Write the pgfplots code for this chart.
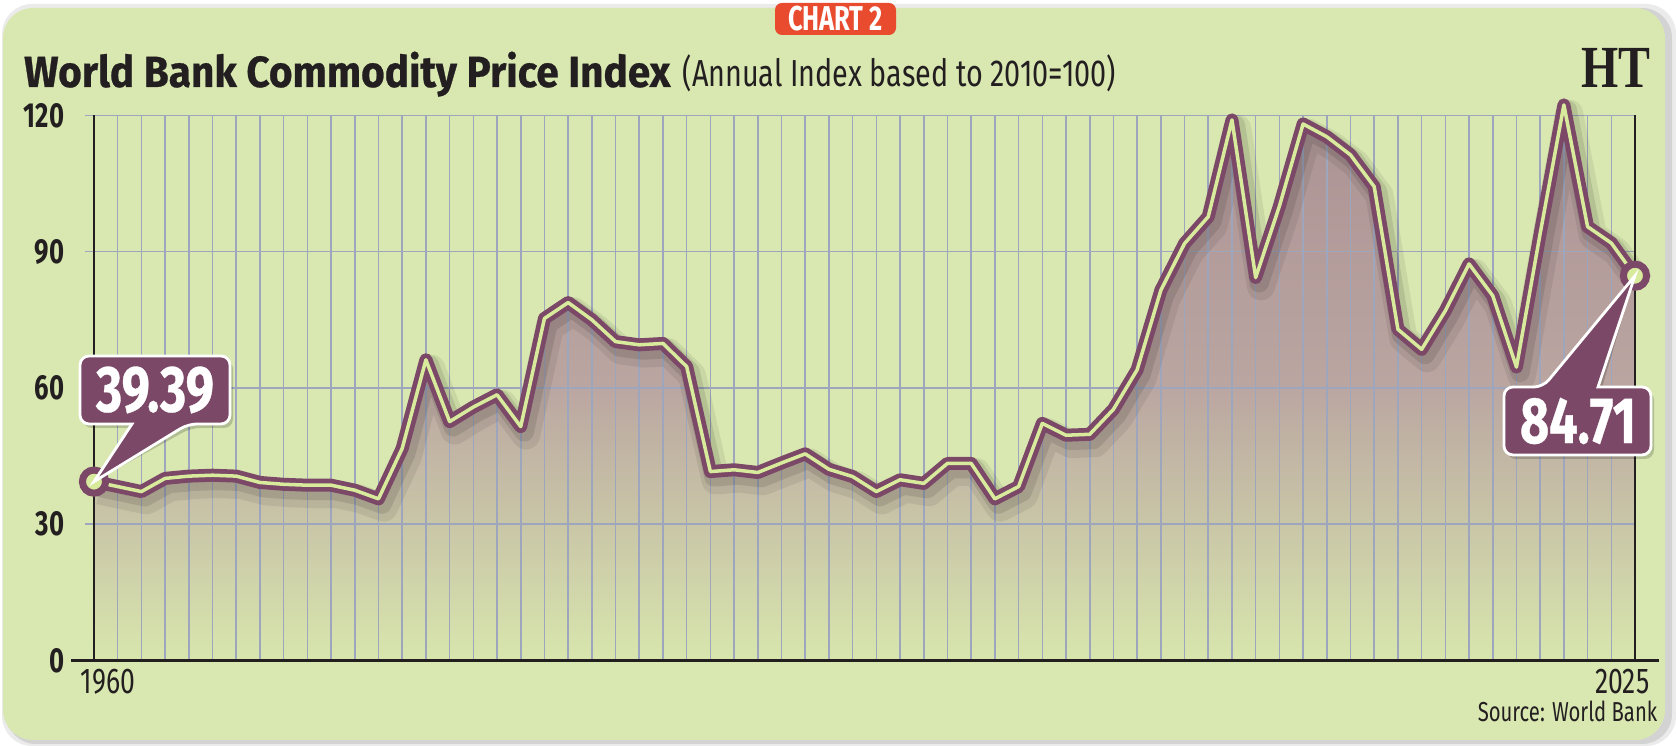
\documentclass[border=0pt]{standalone}
\usepackage{pgfplots}
\usepackage{pgfplotstable}
\pgfplotsset{compat=1.18}
\usepackage{fontspec}
\setmainfont{Fira Sans}
\newfontfamily\condfont[FakeStretch=0.74]{Fira Sans}
\newfontfamily\subfont[FakeStretch=0.765]{Fira Sans}
\newfontfamily\headfont[FakeStretch=0.93, BoldFeatures={FakeBold=0.6}]{Fira Sans}
\newfontfamily\numfont[FakeStretch=0.77, BoldFeatures={FakeBold=0.5}]{Fira Sans}
\newfontfamily\logofont[FakeStretch=0.8]{Liberation Serif}

\definecolor{panel}{HTML}{D9E8B1}
\definecolor{gridc}{HTML}{9EA6BE}
\definecolor{plum}{HTML}{7B4967}
\definecolor{lime}{HTML}{D8EA9C}
\definecolor{filltop}{HTML}{AB9293}
\definecolor{fillmid}{HTML}{BAA5A1}
\definecolor{fillbot}{HTML}{D8E6AD}
\definecolor{badge}{HTML}{E84B2D}
\definecolor{ink}{HTML}{231F20}

% World Bank commodity price index, annual, 2010 = 100
\pgfplotstableread{
year value
1960 39.39
1961 38.3
1962 37.2
1963 40.1
1964 40.6
1965 40.8
1966 40.6
1967 39.2
1968 38.8
1969 38.6
1970 38.6
1971 37.5
1972 35.6
1973 46.7
1974 66.2
1975 52.6
1976 55.8
1977 58.5
1978 51.5
1979 75.3
1980 78.8
1981 75.0
1982 70.2
1983 69.5
1984 69.8
1985 64.7
1986 41.6
1987 42.0
1988 41.4
1989 43.5
1990 45.5
1991 42.1
1992 40.5
1993 37.2
1994 39.8
1995 39.0
1996 43.4
1997 43.4
1998 35.6
1999 38.3
2000 52.2
2001 49.6
2002 49.8
2003 55.3
2004 64.0
2005 81.5
2006 91.8
2007 97.7
2008 119.0
2009 84.3
2010 100.0
2011 118.1
2012 115.3
2013 111.3
2014 104.3
2015 72.9
2016 68.5
2017 77.0
2018 87.3
2019 80.3
2020 64.6
2021 94.0
2022 122.3
2023 95.5
2024 91.9
2025 84.71
}\cpi

\begin{document}
\begin{tikzpicture}[x=1cm,y=1cm]
\useasboundingbox (0,0) rectangle (16.76,7.46);
\fill[white] (0,0) rectangle (16.76,7.46);
% card with soft shadow
\fill[black, opacity=0.08, rounded corners=0.3cm] (0.02,0.00) rectangle (16.76,7.42);
\fill[black, opacity=0.10, rounded corners=0.3cm] (0.06,0.02) rectangle (16.72,7.38);
\fill[panel, rounded corners=0.3cm] (0.03,0.06) rectangle (16.65,7.38);

% headings
\node[anchor=base west, inner sep=0pt, text=ink] at (0.235,6.59)
  {\headfont\bfseries\fontsize{12.4}{14}\selectfont World Bank Commodity Price Index};
\node[anchor=base west, inner sep=0pt, text=ink] at (6.82,6.59)
  {\subfont\fontsize{10.7}{12}\selectfont (Annual Index based to 2010=100)};
\node[fill=badge, text=white, rounded corners=2pt, minimum width=1.21cm,
      minimum height=0.32cm, inner sep=0pt] at (8.355,7.27)
  {\condfont\bfseries\fontsize{9.8}{10}\selectfont CHART 2};
\node[anchor=base east, inner sep=0pt, text=ink] at (16.51,6.58)
  {\logofont\bfseries\fontsize{17}{18}\selectfont HT};

\begin{axis}[
  at={(0.94cm,0.854cm)}, anchor=south west,
  width=15.41cm, height=5.452cm, scale only axis,
  xmin=1960, xmax=2025, ymin=0, ymax=120,
  clip=false,
  axis line style={draw=none},
  tick style={draw=none},
  xtick=\empty,
  ytick={0,30,60,90,120},
  yticklabels={0,30,60,90,120},
  yticklabel style={font=\condfont\bfseries\fontsize{9.9}{10}\selectfont,
    text=ink, anchor=east, inner sep=0pt, xshift=-0.29cm},
]
% shaded area under the index
\addplot[draw=none, top color=filltop, bottom color=fillbot, middle color=fillmid]
  table[x=year, y=value]{\cpi} \closedcycle;

% yearly and 30-point grid
\pgfplotsinvokeforeach{1961,...,2024}{
  \draw[gridc, line width=0.45pt] (axis cs:#1,0) -- (axis cs:#1,120);
}
\pgfplotsinvokeforeach{30,60,90,120}{
  \draw[gridc, line width=0.45pt] ([xshift=-0.09cm]axis cs:1960,#1) -- (axis cs:2025,#1);
}
% frame lines
\draw[ink, line width=0.5pt] (axis cs:1960,0) -- (axis cs:1960,120);
\draw[ink, line width=0.5pt] (axis cs:2025,0) -- (axis cs:2025,120);
\draw[ink, line width=0.9pt] ([xshift=-0.23cm]axis cs:1960,0) -- ([xshift=0.24cm]axis cs:2025,0);

% soft shadow under the line
\addplot[black, opacity=0.07, line width=8pt, line join=round, shift={(1.5pt,-2.5pt)}]
  table[x=year, y=value]{\cpi};
\addplot[black, opacity=0.10, line width=5.5pt, line join=round, shift={(1pt,-1.5pt)}]
  table[x=year, y=value]{\cpi};
% two-tone line
\addplot[plum, line width=3.7pt, line join=round, line cap=round]
  table[x=year, y=value]{\cpi};
\addplot[lime, line width=1pt, line join=round, line cap=round]
  table[x=year, y=value]{\cpi};
% end points
\addplot[only marks, mark=*, mark size=3.3pt,
  mark options={draw=plum, fill=lime, line width=2pt}]
  coordinates {(1960,39.39) (2025,84.71)};

\coordinate (p0) at (axis cs:1960,39.39);
\coordinate (p1) at (axis cs:2025,84.71);
\end{axis}

% year labels and source
\node[anchor=north west, inner sep=0pt, text=ink] at (0.80,0.78)
  {\condfont\fontsize{10.2}{11}\selectfont 1960};
\node[anchor=north east, inner sep=0pt, text=ink] at (16.50,0.78)
  {\condfont\fontsize{10.2}{11}\selectfont 2025};
\node[anchor=base east, inner sep=0pt, text=ink] at (16.58,0.24)
  {\condfont\fontsize{7.8}{9}\selectfont Source: World Bank};

% value callouts
\fill[black, opacity=0.18, rounded corners=0.09cm, shift={(0.03,-0.04)}]
  (0.80,3.56) -- (0.80,3.90) -- (2.30,3.90) -- (2.30,3.22) -- (1.88,3.22)
  [sharp corners] -- (p0) -- (1.32,3.22) [rounded corners=0.09cm] -- (0.80,3.22) -- cycle;
\draw[white, line width=0.8pt, fill=plum, rounded corners=0.09cm]
  (0.80,3.56) -- (0.80,3.90) -- (2.30,3.90) -- (2.30,3.22) -- (1.88,3.22)
  [sharp corners] -- (p0) -- (1.32,3.22) [rounded corners=0.09cm] -- (0.80,3.22) -- cycle;
\node[text=white, inner sep=0pt] at (1.55,3.56)
  {\numfont\bfseries\fontsize{18.6}{20}\selectfont 39.39};

\fill[black, opacity=0.18, rounded corners=0.09cm, shift={(0.03,-0.04)}]
  (15.04,3.25) -- (15.04,3.59) -- (15.43,3.59) [sharp corners] -- (p1)
  -- (15.98,3.59) [rounded corners=0.09cm] -- (16.51,3.59) -- (16.51,2.91) -- (15.04,2.91) -- cycle;
\draw[white, line width=0.8pt, fill=plum, rounded corners=0.09cm]
  (15.04,3.25) -- (15.04,3.59) -- (15.43,3.59) [sharp corners] -- (p1)
  -- (15.98,3.59) [rounded corners=0.09cm] -- (16.51,3.59) -- (16.51,2.91) -- (15.04,2.91) -- cycle;
\node[text=white, inner sep=0pt] at (15.78,3.25)
  {\numfont\bfseries\fontsize{18.6}{20}\selectfont 84.71};
\end{tikzpicture}
\end{document}
